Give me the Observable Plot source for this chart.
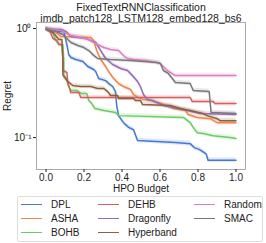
<!DOCTYPE html>
<html><head><meta charset="utf-8">
<script src="https://cdn.jsdelivr.net/npm/d3@7"></script>
<script src="https://cdn.jsdelivr.net/npm/@observablehq/plot@0.6"></script>
<style>
body{margin:0;background:#fff;font-family:"Liberation Sans",Arial,sans-serif;}
#wrap{position:relative;width:266px;height:243px;overflow:hidden}
#legend{position:absolute;left:17px;top:196px;width:246px;height:46px;border:1px solid #ddd;border-radius:2px;box-sizing:border-box;font-size:10px;color:#222}
.item{position:absolute;display:flex;align-items:center;height:12px;white-space:nowrap}
.item span.l{display:inline-block;width:21px;height:0;border-top:1.5px solid;margin-right:9px}
</style></head><body><div id="wrap"><div id="chart"></div><div id="legend"></div></div>
<script>
const titleText = "FixedTextRNNClassification\nimdb_patch128_LSTM128_embed128_bs6";
const xLabel = "HPO Budget";
const yLabel = "Regret";
const xTicks = [0, 0.2, 0.4, 0.6, 0.8, 1.0];
const yTicks = [0.1, 1];
const yTickLabels = ["10\u207B\u00B9", "10\u2070"];
const methods = ["DPL","ASHA","BOHB","DEHB","Dragonfly","Hyperband","Random","SMAC"];
const colors = ["#4878d0","#ee854a","#6acc64","#d65f5f","#956cb4","#8c613c","#dc7ec0","#797979"];

const dplBudget = [0,0.068,0.094,0.11,0.12,0.131,0.157,0.194,0.22,0.251,0.262,0.277,0.314,0.33,0.351,0.366,0.372,0.382,0.408,0.435,0.461,0.482,0.681,0.759,0.78,0.806,0.843,0.853,1.0];
const dplRegret = [0.99,0.939,0.939,0.713,0.577,0.542,0.52,0.498,0.448,0.421,0.403,0.348,0.333,0.313,0.294,0.264,0.197,0.159,0.137,0.124,0.118,0.094,0.09,0.088,0.081,0.078,0.071,0.062,0.062];
const ashaBudget = [0,0.052,0.079,0.236,0.251,0.267,0.288,0.314,0.33,0.356,0.382,0.408,0.445,0.461,0.487,0.513,0.55,0.592,0.67,0.733,0.749,0.796,0.864,0.901,1.0];
const ashaRegret = [0.99,0.919,0.845,0.827,0.776,0.628,0.52,0.448,0.403,0.348,0.313,0.294,0.276,0.248,0.233,0.223,0.219,0.21,0.185,0.177,0.163,0.153,0.149,0.137,0.137];
const bohbBudget = [0,0.037,0.052,0.068,0.089,0.094,0.094,0.105,0.115,0.131,0.162,0.188,0.215,0.225,0.241,0.257,0.304,0.366,0.382,0.723,0.759,0.775,0.796,0.827,0.88,0.969,1.0];
const bohbRegret = [0.99,0.9,0.776,0.713,0.713,0.509,0.378,0.355,0.306,0.27,0.27,0.253,0.253,0.219,0.205,0.185,0.177,0.17,0.159,0.153,0.137,0.124,0.111,0.109,0.104,0.1,0.098];
const dehbBudget = [0,0.021,0.037,0.058,0.068,0.084,0.089,0.089,0.11,0.115,0.131,0.173,0.183,0.759,0.77,0.88,0.89,1.0];
const dehbRegret = [0.99,0.939,0.81,0.776,0.713,0.713,0.509,0.412,0.395,0.32,0.259,0.259,0.233,0.233,0.214,0.214,0.205,0.205];
const dragonflyBudget = [0,0.079,0.105,0.131,0.209,0.262,0.288,0.314,0.351,0.393,0.429,0.455,0.482,0.497,0.513,0.534,0.56,0.618,0.743,0.812,1.0];
const dragonflyRegret = [0.99,0.979,0.939,0.845,0.81,0.744,0.628,0.531,0.468,0.43,0.412,0.37,0.327,0.294,0.248,0.223,0.219,0.197,0.177,0.166,0.163];
const hyperbandBudget = [0,0.037,0.068,0.084,0.089,0.089,0.094,0.115,0.141,0.183,0.236,0.272,0.304,0.325,0.34,0.377,0.382,0.461,0.471,0.497,0.508,0.654,0.707,0.759,0.827,0.848,0.901,0.916,1.0];
const hyperbandRegret = [0.99,0.919,0.793,0.793,0.509,0.378,0.363,0.327,0.3,0.294,0.294,0.282,0.282,0.264,0.243,0.243,0.228,0.228,0.219,0.219,0.201,0.197,0.185,0.177,0.166,0.159,0.149,0.143,0.143];
const randomBudget = [0,0.079,0.131,0.183,0.225,0.262,0.304,0.34,0.382,0.408,0.429,0.461,0.529,0.602,0.639,0.681,1.0];
const randomRegret = [0.99,0.959,0.863,0.827,0.793,0.728,0.669,0.642,0.628,0.565,0.531,0.52,0.509,0.478,0.412,0.37,0.37];
const smacBudget = [0,0.052,0.089,0.115,0.131,0.168,0.199,0.225,0.246,0.272,0.34,0.445,0.586,0.602,0.618,0.644,0.665,0.681,0.759,0.775,0.859,0.869,1.0];
const smacRegret = [0.99,0.939,0.881,0.793,0.744,0.698,0.669,0.628,0.577,0.531,0.52,0.509,0.488,0.478,0.412,0.387,0.348,0.32,0.313,0.27,0.264,0.17,0.166];
const bandFactor = 1.05;

const series = [
  [dplBudget, dplRegret], [ashaBudget, ashaRegret], [bohbBudget, bohbRegret], [dehbBudget, dehbRegret],
  [dragonflyBudget, dragonflyRegret], [hyperbandBudget, hyperbandRegret], [randomBudget, randomRegret], [smacBudget, smacRegret]
];
const rows = [];
series.forEach(([bs, rs], i) => bs.forEach((b, j) => rows.push({method: methods[i], budget: b, regret: rs[j], lo: rs[j] / bandFactor, hi: rs[j] * bandFactor})));

const marks = [];
methods.forEach((m, i) => {
  const d = rows.filter(r => r.method === m);
  marks.push(Plot.areaY(d, {x: "budget", y1: "lo", y2: "hi", fill: colors[i], fillOpacity: 0.18}));
});
methods.forEach((m, i) => {
  const d = rows.filter(r => r.method === m);
  marks.push(Plot.line(d, {x: "budget", y: "regret", stroke: colors[i], strokeWidth: 1.5}));
});

const chart = Plot.plot({
  width: 266, height: 194,
  marginTop: 22, marginLeft: 36, marginRight: 21, marginBottom: 25,
  style: {fontFamily: '"Liberation Sans", Arial, sans-serif', fontSize: "10px", color: "#222", background: "#fff"},
  x: {domain: [-0.05, 1.05]},
  y: {type: "log", domain: [0.051, 1.135]},
  marks: [
    ...marks,
    Plot.frame({stroke: "#aaa", strokeWidth: 1}),
    Plot.axisX({ticks: xTicks, tickFormat: d3.format(".1f"), tickSize: 3, tickPadding: 1, label: xLabel, labelAnchor: "center", labelArrow: "none", labelOffset: 22, fontSize: 10}),
    Plot.axisY({ticks: yTicks, tickFormat: d => yTickLabels[yTicks.indexOf(d)], tickSize: 3, tickPadding: 2, label: yLabel, labelAnchor: "center", labelArrow: "none", labelOffset: 33, fontSize: 10}),
    Plot.text([titleText], {frameAnchor: "top", lineAnchor: "bottom", dy: -1, lineHeight: 1.0, fontSize: 10.5, fill: "#222"})
  ]
});
document.getElementById("chart").appendChild(chart);

const legend = document.getElementById("legend");
const colX = [3, 80, 176];
const rowY = [1, 15, 29];
methods.forEach((m, i) => {
  const c = Math.floor(i / 3), r = i % 3;
  const it = document.createElement("div");
  it.className = "item";
  it.style.left = colX[c] + "px";
  it.style.top = rowY[r] + "px";
  it.innerHTML = `<span class="l" style="border-color:${colors[i]}"></span><span>${m}</span>`;
  legend.appendChild(it);
});
</script></body></html>
